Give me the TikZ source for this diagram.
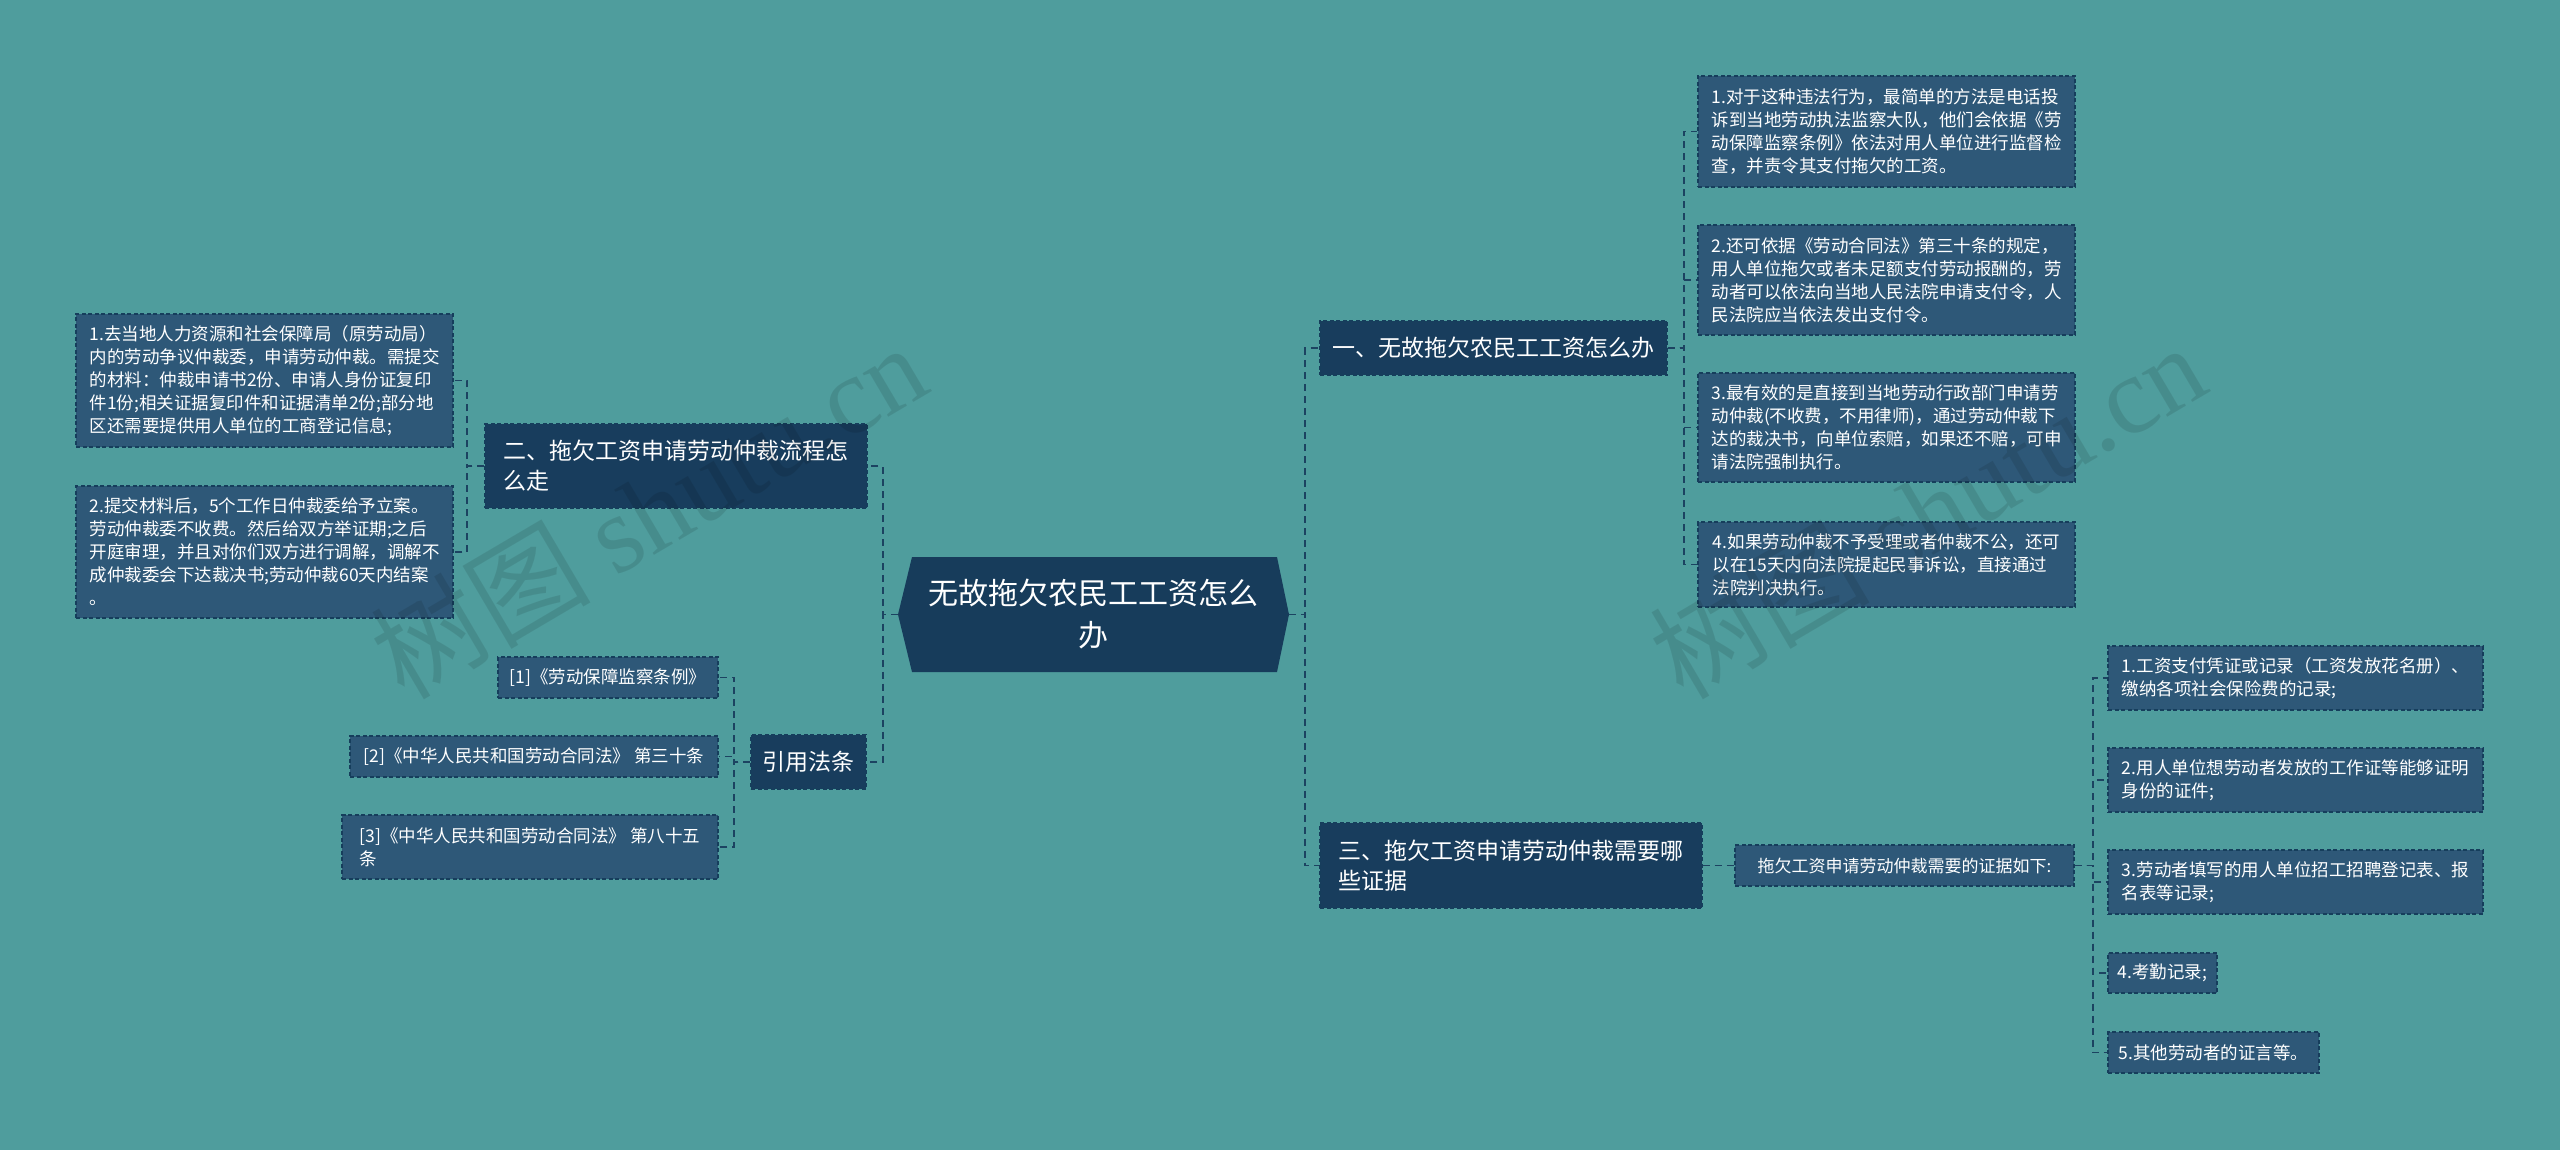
\documentclass[tikz,border=0pt]{standalone}
\usepackage{fontspec}
\setmainfont{Noto Sans CJK SC}
\newfontfamily\markfont{Liberation Serif}
\usetikzlibrary{calc}
\definecolor{bgteal}{RGB}{79,157,157}
\definecolor{leafc}{RGB}{46,88,120}
\definecolor{topicc}{RGB}{24,61,93}
\definecolor{rootc}{RGB}{23,60,91}
\definecolor{edgec}{RGB}{22,62,92}
\definecolor{linkc}{RGB}{28,67,97}
\tikzset{
	link/.style={draw=linkc, line width=1.8pt, dash pattern=on 7pt off 5pt},
	rootbox/.style={text=white, align=center, minimum width=391pt, minimum height=115pt, inner sep=0pt, font=\fontsize{30}{42}\selectfont},
	topicbox/.style={draw=edgec, line width=1.4pt, dash pattern=on 4pt off 2.5pt, fill=topicc, text=white, align=left, inner xsep=8pt, inner ysep=0pt, font=\fontsize{23}{30}\selectfont},
	leafbox/.style={draw=edgec, line width=1.4pt, dash pattern=on 4pt off 2.5pt, fill=leafc, text=white, align=left, inner xsep=8pt, inner ysep=0pt, font=\fontsize{17.5}{23}\selectfont},
	markbox/.style={rotate=30.5, text=black, text opacity=0.1, font=\fontsize{110}{110}\selectfont},
}

\begin{document}
\begin{tikzpicture}[x=1pt, y=-1pt]
		%%%%% START %%%%%
		
		\fill[bgteal] (0, 0) rectangle (2560, 1150);
		
		% centre
		\fill[rootc] (898, 614.5) -- (912, 557) -- (1277, 557) -- (1289, 614.5) -- (1277, 672) -- (912, 672) -- cycle;
		\node[rootbox] (root) at (1093.5, 614.5) {无故拖欠农民工工资怎么\\办};
		
		% left side
		\node[topicbox, minimum width=382pt, minimum height=84pt] (n2) at (676, 466) {二、拖欠工资申请劳动仲裁流程怎\\么走};
		\node[topicbox, minimum width=115pt, minimum height=54pt, align=center] (cite) at (808.5, 762) {引用法条};
		
		\node[leafbox, minimum width=377pt, minimum height=133pt] (a1) at (264.5, 380.5) {1.去当地人力资源和社会保障局（原劳动局）\\内的劳动争议仲裁委，申请劳动仲裁。需提交\\的材料：仲裁申请书2份、申请人身份证复印\\件1份;相关证据复印件和证据清单2份;部分地\\区还需要提供用人单位的工商登记信息;};
		\node[leafbox, minimum width=377pt, minimum height=132pt] (a2) at (264.5, 552) {2.提交材料后，5个工作日仲裁委给予立案。\\劳动仲裁委不收费。然后给双方举证期;之后\\开庭审理，并且对你们双方进行调解，调解不\\成仲裁委会下达裁决书;劳动仲裁60天内结案\\。};
		
		\node[leafbox, minimum width=220pt, minimum height=41pt, align=center] (c1) at (608, 677.5) {[1]《劳动保障监察条例》};
		\node[leafbox, minimum width=368pt, minimum height=41pt, align=center] (c2) at (534, 756.5) {[2]《中华人民共和国劳动合同法》 第三十条};
		\node[leafbox, minimum width=376pt, minimum height=64pt] (c3) at (530, 847) {[3]《中华人民共和国劳动合同法》 第八十五\\条};
		
		% right side
		\node[topicbox, minimum width=347pt, minimum height=54pt, align=center] (n1) at (1493.5, 348) {一、无故拖欠农民工工资怎么办};
		\node[topicbox, minimum width=382pt, minimum height=85pt] (n3) at (1511, 865.5) {三、拖欠工资申请劳动仲裁需要哪\\些证据};
		
		\node[leafbox, minimum width=377pt, minimum height=111pt] (b1) at (1886.5, 131.5) {1.对于这种违法行为，最简单的方法是电话投\\诉到当地劳动执法监察大队，他们会依据《劳\\动保障监察条例》依法对用人单位进行监督检\\查，并责令其支付拖欠的工资。};
		\node[leafbox, minimum width=377pt, minimum height=110pt] (b2) at (1886.5, 280) {2.还可依据《劳动合同法》第三十条的规定，\\用人单位拖欠或者未足额支付劳动报酬的，劳\\动者可以依法向当地人民法院申请支付令，人\\民法院应当依法发出支付令。};
		\node[leafbox, minimum width=377pt, minimum height=109pt] (b3) at (1886.5, 427.5) {3.最有效的是直接到当地劳动行政部门申请劳\\动仲裁(不收费，不用律师)，通过劳动仲裁下\\达的裁决书，向单位索赔，如果还不赔，可申\\请法院强制执行。};
		\node[leafbox, minimum width=377pt, minimum height=85pt] (b4) at (1886.5, 564.5) {4.如果劳动仲裁不予受理或者仲裁不公，还可\\以在15天内向法院提起民事诉讼，直接通过\\法院判决执行。};
		
		\node[leafbox, minimum width=339pt, minimum height=41pt, align=center, font=\fontsize{17}{22}\selectfont] (d0) at (1904.5, 865.5) {拖欠工资申请劳动仲裁需要的证据如下:};
		
		\node[leafbox, minimum width=375pt, minimum height=64pt] (d1) at (2295.5, 678) {1.工资支付凭证或记录（工资发放花名册）、\\缴纳各项社会保险费的记录;};
		\node[leafbox, minimum width=375pt, minimum height=64pt] (d2) at (2295.5, 780) {2.用人单位想劳动者发放的工作证等能够证明\\身份的证件;};
		\node[leafbox, minimum width=375pt, minimum height=64pt] (d3) at (2295.5, 882) {3.劳动者填写的用人单位招工招聘登记表、报\\名表等记录;};
		\node[leafbox, minimum width=109pt, minimum height=40pt, align=center] (d4) at (2162.5, 973) {4.考勤记录;};
		\node[leafbox, minimum width=211pt, minimum height=41pt, align=center] (d5) at (2213.5, 1052.5) {5.其他劳动者的证言等。};
		
		% connectors
		\draw[link] (root.west) -- ++(-15, 0) |- (n2.east);
		\draw[link] (root.west) -- ++(-15, 0) |- (cite.east);
		\draw[link] (root.east) -- ++(16, 0) |- (n1.west);
		\draw[link] (root.east) -- ++(16, 0) |- (n3.west);
		
		\draw[link] (n2.west) -- ++(-17, 0) |- (a1.east);
		\draw[link] (n2.west) -- ++(-17, 0) |- (a2.east);
		
		\draw[link] (cite.west) -- ++(-16, 0) |- (c1.east);
		\draw[link] (cite.west) -- ++(-16, 0) |- (c2.east);
		\draw[link] (cite.west) -- ++(-16, 0) |- (c3.east);
		
		\draw[link] (n1.east) -- ++(16, 0) |- (b1.west);
		\draw[link] (n1.east) -- ++(16, 0) |- (b2.west);
		\draw[link] (n1.east) -- ++(16, 0) |- (b3.west);
		\draw[link] (n1.east) -- ++(16, 0) |- (b4.west);
		
		\draw[link] (n3.east) -- (d0.west);
		\draw[link] (d0.east) -- ++(18, 0) |- (d1.west);
		\draw[link] (d0.east) -- ++(18, 0) |- (d2.west);
		\draw[link] (d0.east) -- ++(18, 0) |- (d3.west);
		\draw[link] (d0.east) -- ++(18, 0) |- (d4.west);
		\draw[link] (d0.east) -- ++(18, 0) |- (d5.west);
		
		% watermark
		\node[markbox] (markl) at (648, 510) {树图 {\markfont shutu.cn}};
		\node[markbox] (markr) at (1927, 510) {树图 {\markfont shutu.cn}};
		
		%%%%% END %%%%%
\end{tikzpicture}
\end{document}
